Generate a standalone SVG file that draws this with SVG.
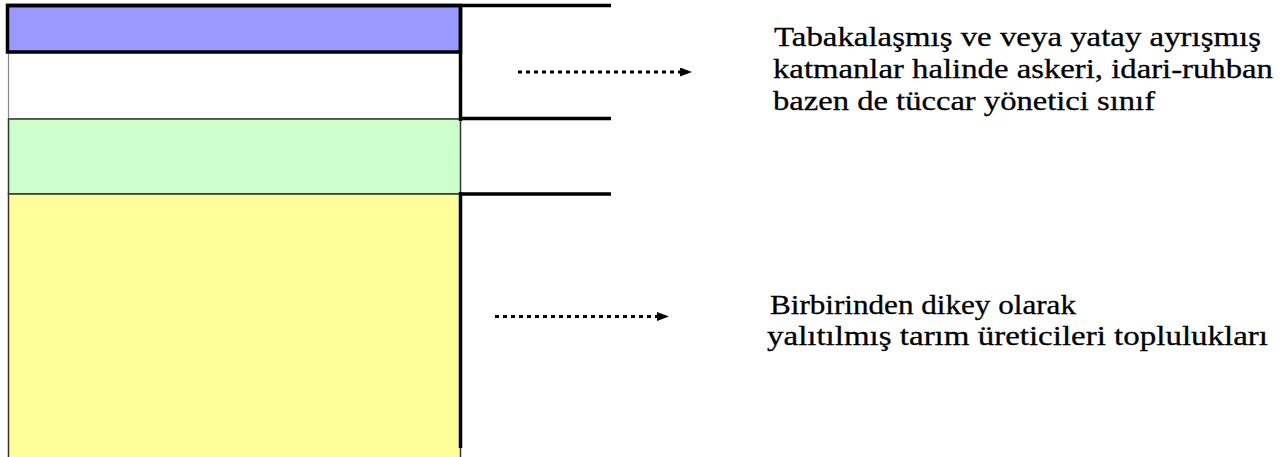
<svg xmlns="http://www.w3.org/2000/svg" width="1286" height="457" viewBox="0 0 1286 457">
  <style>
    .thick { stroke: #000; stroke-width: 3.5; fill: none; }
    .band { stroke: #333; stroke-width: 1.5; }
    .dotted { stroke: #000; stroke-width: 3; stroke-dasharray: 4 4; fill: none; }
    .label { font-family: "Liberation Serif", "Times New Roman", serif; font-size: 28px; fill: #000; stroke: #000; stroke-width: 0.3; }
  </style>
  <defs>
    <marker id="arrow" viewBox="0 0 12 9" refX="0" refY="4.5" markerWidth="12" markerHeight="9" markerUnits="userSpaceOnUse" orient="auto">
      <polygon points="0,0 12,4.5 0,9" fill="#000"/>
    </marker>
  </defs>
  <rect width="1286" height="457" fill="#fff"/>

  <g id="band-white">
    <rect x="8.5" y="52" width="452" height="67" fill="#fff" stroke="#888" stroke-width="1.2"/>
  </g>
  <g id="band-green">
    <rect class="band" x="8.5" y="119" width="452" height="75" fill="#CCFFCC"/>
  </g>
  <g id="band-yellow">
    <rect class="band" x="8.5" y="194" width="452" height="275" fill="#FFFF99"/>
  </g>
  <g id="band-purple">
    <rect x="7.5" y="5.5" width="453" height="46.5" fill="#9999FF" stroke="#000" stroke-width="3.5"/>
  </g>

  <g id="frame">
    <line class="thick" x1="6" y1="5.5" x2="611" y2="5.5"/>
    <line class="thick" x1="460.5" y1="4" x2="460.5" y2="121"/>
    <line class="thick" x1="461" y1="118.5" x2="611" y2="118.5"/>
    <line class="thick" x1="461" y1="194" x2="611" y2="194"/>
    <line class="thick" x1="460.5" y1="192" x2="460.5" y2="448"/>
  </g>

  <g id="connectors">
    <line class="dotted" x1="518" y1="72" x2="680" y2="72" marker-end="url(#arrow)"/>
    <line class="dotted" x1="495" y1="316.5" x2="657" y2="316.5" marker-end="url(#arrow)"/>
  </g>

  <g id="label-top">
    <text class="label" x="774" y="46" textLength="487" lengthAdjust="spacingAndGlyphs">Tabakalaşmış ve veya yatay ayrışmış</text>
    <text class="label" x="773" y="78" textLength="500" lengthAdjust="spacingAndGlyphs">katmanlar halinde askeri, idari-ruhban</text>
    <text class="label" x="773" y="110" textLength="382" lengthAdjust="spacingAndGlyphs">bazen de tüccar yönetici sınıf</text>
  </g>
  <g id="label-bottom">
    <text class="label" x="770" y="314" textLength="306" lengthAdjust="spacingAndGlyphs">Birbirinden dikey olarak</text>
    <text class="label" x="767" y="345" textLength="501" lengthAdjust="spacingAndGlyphs">yalıtılmış tarım üreticileri toplulukları</text>
  </g>
</svg>
